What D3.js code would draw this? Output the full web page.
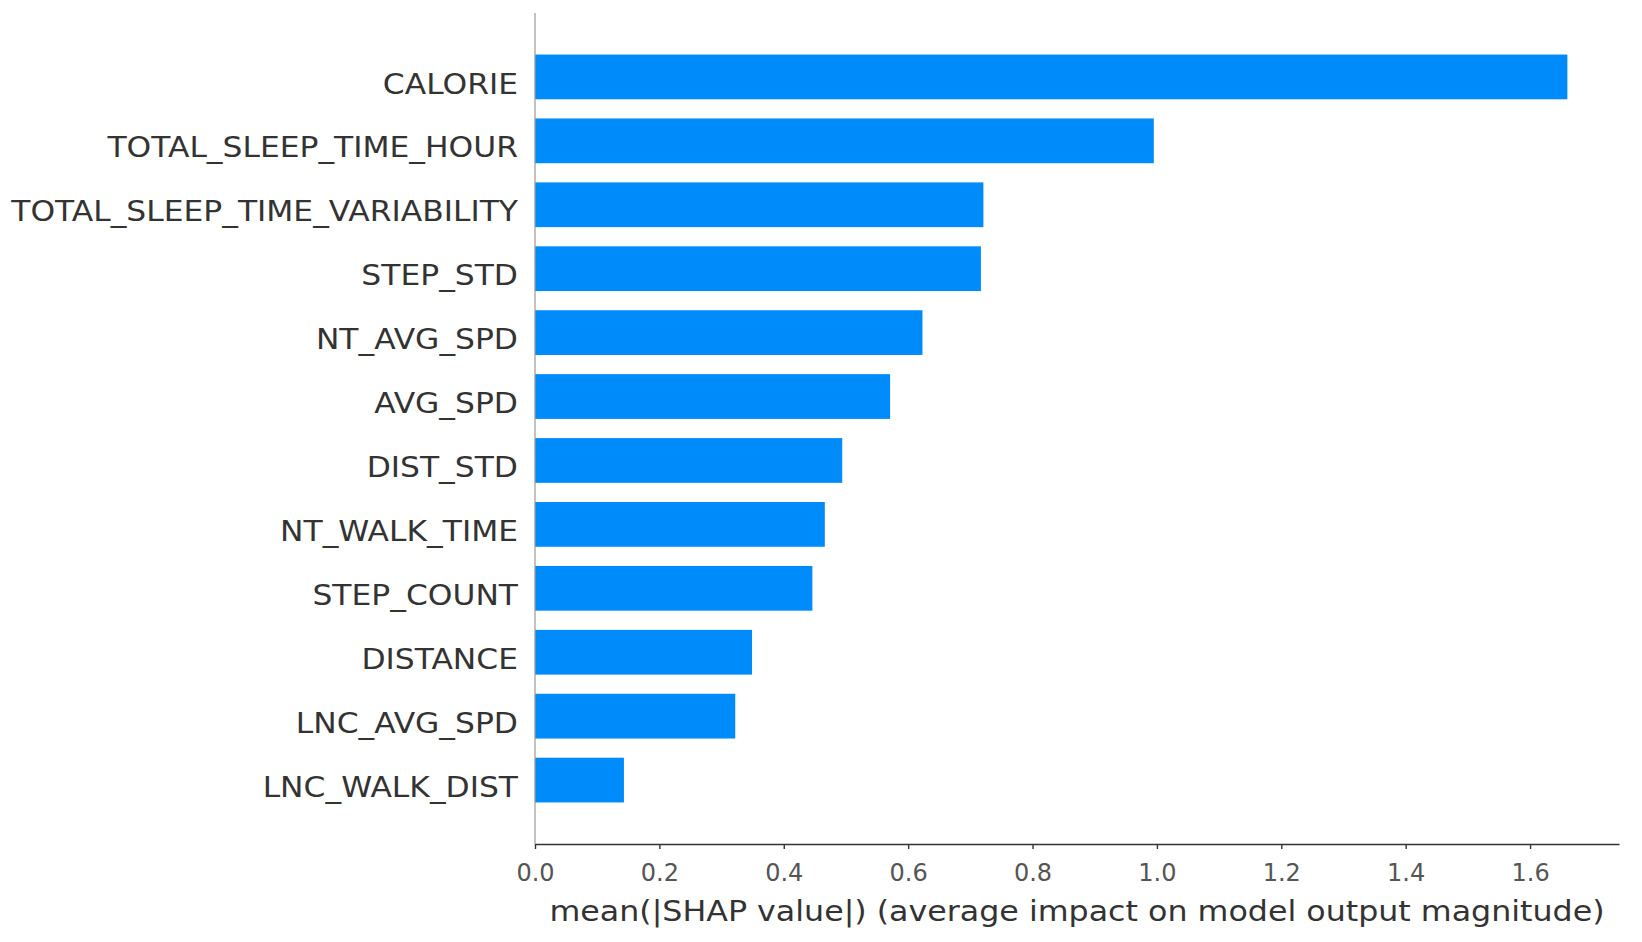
<!DOCTYPE html>
<html>
<head>
<meta charset="utf-8">
<script src="https://cdn.jsdelivr.net/npm/d3@7"></script>
<style>
  html, body { margin: 0; padding: 0; background: #fff; }
  svg { display: block; font-family: "DejaVu Sans", sans-serif; }
</style>
</head>
<body>
<div id="chart"></div>
<script>
// feature names, top to bottom (most important first)
const features = [
  "CALORIE",
  "TOTAL_SLEEP_TIME_HOUR",
  "TOTAL_SLEEP_TIME_VARIABILITY",
  "STEP_STD",
  "NT_AVG_SPD",
  "AVG_SPD",
  "DIST_STD",
  "NT_WALK_TIME",
  "STEP_COUNT",
  "DISTANCE",
  "LNC_AVG_SPD",
  "LNC_WALK_DIST"
];

// mean(|SHAP value|) per feature
const meanAbsShap = [1.660, 0.995, 0.721, 0.717, 0.623, 0.571, 0.494, 0.466, 0.446, 0.349, 0.322, 0.143];

const xTicks = [0.0, 0.2, 0.4, 0.6, 0.8, 1.0, 1.2, 1.4, 1.6];
const xLabel = "mean(|SHAP value|) (average impact on model output magnitude)";

const width = 1642, height = 942;
const plotLeft = 535, plotRight = 1619, plotTop = 13, plotBottom = 844;
const barColor = "#008bfb";

const svg = d3.select("#chart")
  .append("svg")
  .attr("width", width)
  .attr("height", height);

const x = d3.scaleLinear()
  .domain([0, 1.743])
  .range([plotLeft, plotRight]);

const y = d3.scaleBand()
  .domain(features)
  .range([plotTop, plotBottom])
  .paddingInner(0.3)
  .paddingOuter(0.65);

// bars
svg.append("g")
  .selectAll("rect")
  .data(features)
  .enter().append("rect")
  .attr("x", x(0))
  .attr("y", d => y(d))
  .attr("width", (d, i) => x(meanAbsShap[i]) - x(0))
  .attr("height", y.bandwidth())
  .attr("fill", barColor);

// light vertical zero line
svg.append("line")
  .attr("x1", x(0)).attr("x2", x(0))
  .attr("y1", plotTop).attr("y2", plotBottom)
  .attr("stroke", "#999")
  .attr("stroke-width", 1.2);

// feature labels (the source image is a bit stretched sideways)
svg.append("g")
  .selectAll("text")
  .data(features)
  .enter().append("text")
  .attr("transform", d => `translate(${x(0) - 17},${y(d) + y.bandwidth() / 2 + 16.6}) scale(1.12,1)`)
  .attr("text-anchor", "end")
  .attr("font-size", "28px")
  .attr("fill", "#333")
  .text(d => d);

// x axis
const xAxis = svg.append("g")
  .attr("transform", `translate(0,${plotBottom})`)
  .call(d3.axisBottom(x)
    .tickValues(xTicks)
    .tickFormat(d3.format(".1f"))
    .tickSize(5)
    .tickSizeOuter(0)
    .tickPadding(15));

xAxis.select(".domain").attr("stroke", "#333").attr("stroke-width", 1.6);
xAxis.selectAll(".tick line").attr("stroke", "#333").attr("stroke-width", 1.4);
xAxis.selectAll(".tick text")
  .attr("font-size", "24px")
  .attr("font-family", "DejaVu Sans, sans-serif")
  .attr("fill", "#555");

// x axis title
svg.append("text")
  .attr("transform", `translate(${(plotLeft + plotRight) / 2},921) scale(1.153,1)`)
  .attr("text-anchor", "middle")
  .attr("font-size", "27.5px")
  .attr("fill", "#333")
  .text(xLabel);
</script>
</body>
</html>
